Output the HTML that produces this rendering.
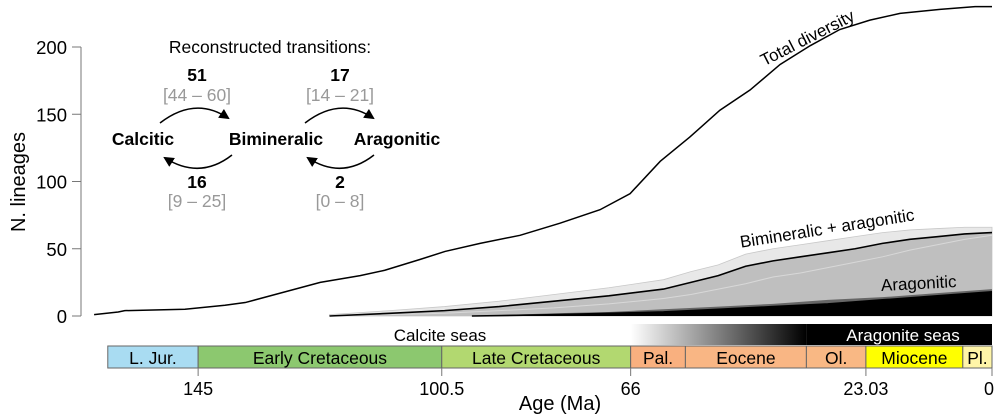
<!DOCTYPE html>
<html><head><meta charset="utf-8"><style>
body{margin:0;background:#fff;}
svg{display:block;font-family:"Liberation Sans",Arial,sans-serif;}
</style></head><body>
<svg id="chart" width="1000" height="418" viewBox="0 0 1000 418" xmlns="http://www.w3.org/2000/svg">
<defs>
<linearGradient id="seaGrad" x1="0" x2="1" y1="0" y2="0">
<stop offset="0" stop-color="#fff"/><stop offset="1" stop-color="#000"/>
</linearGradient>
<marker id="ah" viewBox="0 0 10 10" refX="8" refY="5" markerWidth="7" markerHeight="7" orient="auto"><path d="M0,0 L10,5 L0,10 z" fill="#000"/></marker>
</defs>
<g id="plot"></g>
<g font-size="17.5" text-anchor="middle">
<text x="270" y="53">Reconstructed transitions:</text>
<text x="197" y="81" font-weight="bold">51</text>
<text x="197" y="101" fill="#999">[44 – 60]</text>
<text x="340" y="81" font-weight="bold">17</text>
<text x="340" y="101" fill="#999">[14 – 21]</text>
<text x="143" y="145" font-weight="bold">Calcitic</text>
<text x="276" y="145" font-weight="bold">Bimineralic</text>
<text x="397" y="145" font-weight="bold">Aragonitic</text>
<text x="197" y="188" font-weight="bold">16</text>
<text x="197" y="207" fill="#999">[9 – 25]</text>
<text x="340" y="188" font-weight="bold">2</text>
<text x="340" y="207" fill="#999">[0 – 8]</text>
<path d="M160,123 Q195,96 228,118" fill="none" stroke="#000" stroke-width="1.5" marker-end="url(#ah)"/>
<path d="M305,123 Q340,96 373,118" fill="none" stroke="#000" stroke-width="1.5" marker-end="url(#ah)"/>
<path d="M232,155 Q200,180 165,158" fill="none" stroke="#000" stroke-width="1.5" marker-end="url(#ah)"/>
<path d="M374,155 Q342,180 308,158" fill="none" stroke="#000" stroke-width="1.5" marker-end="url(#ah)"/>
</g>
</svg>
<script>
const totalAges=[164,159.6,158.4,147.4,140.1,136.4,130,122.7,115.4,110.9,104.5,99.9,93.5,86.2,78.9,71.6,66.1,60.6,55.2,49.7,44.2,38.7,33.2,27.8,22.3,16.8,9.5,3.1,0];
const totalVals=[1,3,4,5,8,10,17,25,30,34,42,48,54,60,69,79,91,115,133,153,168,187,201,213,220,225,228,230,230];
const biminAges=[121,110,100,90,80,70,60,55,50,45,40,35,30,25,20,15,10,5,0];
const biminMean=[0,2,4,7,11,15,20,25,30,37,41,44,47,50,54,57,59,61,62];
const biminHi=[1,4,7,11,16,21,27,33,38,46,50,53,56,59,62,64,65,66,66];
const biminLo=[0,1,2,4,6,9,13,16,20,24,29,32,36,40,44,49,53,57,60];
const aragAges=[95,80,70,60,50,40,30,20,10,0];
const aragMean=[0,1,2,3,5,7,9,12,15,18];
const aragHi=[0,2,3,5,7,9,12,14,17,20];
const yTicks=[0,50,100,150,200];
const xTickAges=[145,100.5,66,23.03,0];
const xTickLabels=["145","100.5","66","23.03","0"];
const periodNames=["L. Jur.","Early Cretaceous","Late Cretaceous","Pal.","Eocene","Ol.","Miocene","Pl."];
const periodStarts=[161.5,145,100.5,66,56,33.9,23.03,5.33];
const periodEnds=[145,100.5,66,56,33.9,23.03,5.33,0];
const periodColors=["#a9dcf2","#8cc86f","#b2d870","#f9b07f","#f9b684","#f9b884","#ffff00","#fff5a8"];

const NS="http://www.w3.org/2000/svg";
const X=a=>992-5.475*a;
const Y=v=>316-v*1.345;
const g=document.getElementById('plot');
function mk(tag,attrs,parent){const e=document.createElementNS(NS,tag);for(const k in attrs)e.setAttribute(k,attrs[k]);(parent||g).appendChild(e);return e;}
function pts(ages,vals){return ages.map((a,i)=>[X(a),Y(vals[i])]);}
function area(ages,vals){const p=pts(ages,vals);let d='M'+X(ages[0])+','+Y(0);p.forEach(q=>d+=' L'+q[0]+','+q[1]);d+=' L'+X(ages[ages.length-1])+','+Y(0)+' Z';return d;}
function line(ages,vals){const p=pts(ages,vals);return 'M'+p.map(q=>q[0]+','+q[1]).join(' L');}

let e;
e=mk('path',{d:area(biminAges,biminHi),fill:'#e8e8e8',stroke:'#c8c8c8','stroke-width':0.8});


e=mk('path',{d:area(biminAges,biminMean),fill:'#bfbfbf'});


e=mk('path',{d:line(biminAges,biminLo),fill:'none',stroke:'#d8d8d8','stroke-width':1});


e=mk('path',{d:area(aragAges,aragHi),fill:'#666'});


e=mk('path',{d:area(aragAges,aragMean),fill:'#000'});


e=mk('path',{d:line(biminAges,biminMean),fill:'none',stroke:'#000','stroke-width':1.6});


e=mk('path',{d:line(aragAges,aragMean),fill:'none',stroke:'#000','stroke-width':1.6});


e=mk('path',{d:line(totalAges,totalVals),fill:'none',stroke:'#000','stroke-width':1.5});



e=mk('line',{x1:81,x2:81,y1:Y(200),y2:Y(0),stroke:'#777','stroke-width':1});


yTicks.forEach(v=>{
 let t=mk('line',{x1:72,x2:81,y1:Y(v),y2:Y(v),stroke:'#777'});
 
 
 let l=mk('text',{x:67,y:Y(v)+7,'text-anchor':'end','font-size':18.5});
 l.textContent=v;
 
 
});
e=mk('text',{x:0,y:0,transform:'translate(25,182) rotate(-90)','text-anchor':'middle','font-size':20});
e.textContent='N. lineages';



e=mk('text',{x:0,y:0,transform:'translate(810,43) rotate(-27)','text-anchor':'middle','font-size':17});
e.textContent='Total diversity';


e=mk('text',{x:0,y:0,transform:'translate(828,234) rotate(-9)','text-anchor':'middle','font-size':17});
e.textContent='Bimineralic + aragonitic';


e=mk('text',{x:919,y:289,'text-anchor':'middle','font-size':17,transform:'rotate(-3 919 289)'});
e.textContent='Aragonitic';



e=mk('rect',{x:X(66),y:324,width:X(33.9)-X(66),height:21,fill:'url(#seaGrad)'});


e=mk('rect',{x:X(33.9),y:324,width:X(0)-X(33.9),height:21,fill:'#000'});


e=mk('text',{x:903,y:341,'text-anchor':'middle','font-size':17,fill:'#fff'});
e.textContent='Aragonite seas';


e=mk('text',{x:440,y:341,'text-anchor':'middle','font-size':17});
e.textContent='Calcite seas';



periodNames.forEach((n,i)=>{
 let r=mk('rect',{x:X(periodStarts[i]),y:346,width:X(periodEnds[i])-X(periodStarts[i]),height:22,fill:periodColors[i],stroke:'#666','stroke-width':1});
 
 
 let t=mk('text',{x:(X(periodStarts[i])+X(periodEnds[i]))/2,y:364,'text-anchor':'middle','font-size':17.5});
 t.textContent=n;
 
 
});
xTickAges.forEach((a,i)=>{
 let t=mk('line',{x1:X(a),x2:X(a),y1:368,y2:376,stroke:'#777'});
 
 
 let l=mk('text',{x:X(a)-(i==4?3:0),y:395,'text-anchor':'middle','font-size':18});
 l.textContent=xTickLabels[i];
 
 
});
e=mk('text',{x:560,y:410,'text-anchor':'middle','font-size':20});
e.textContent='Age (Ma)';


</script>
</body></html>
